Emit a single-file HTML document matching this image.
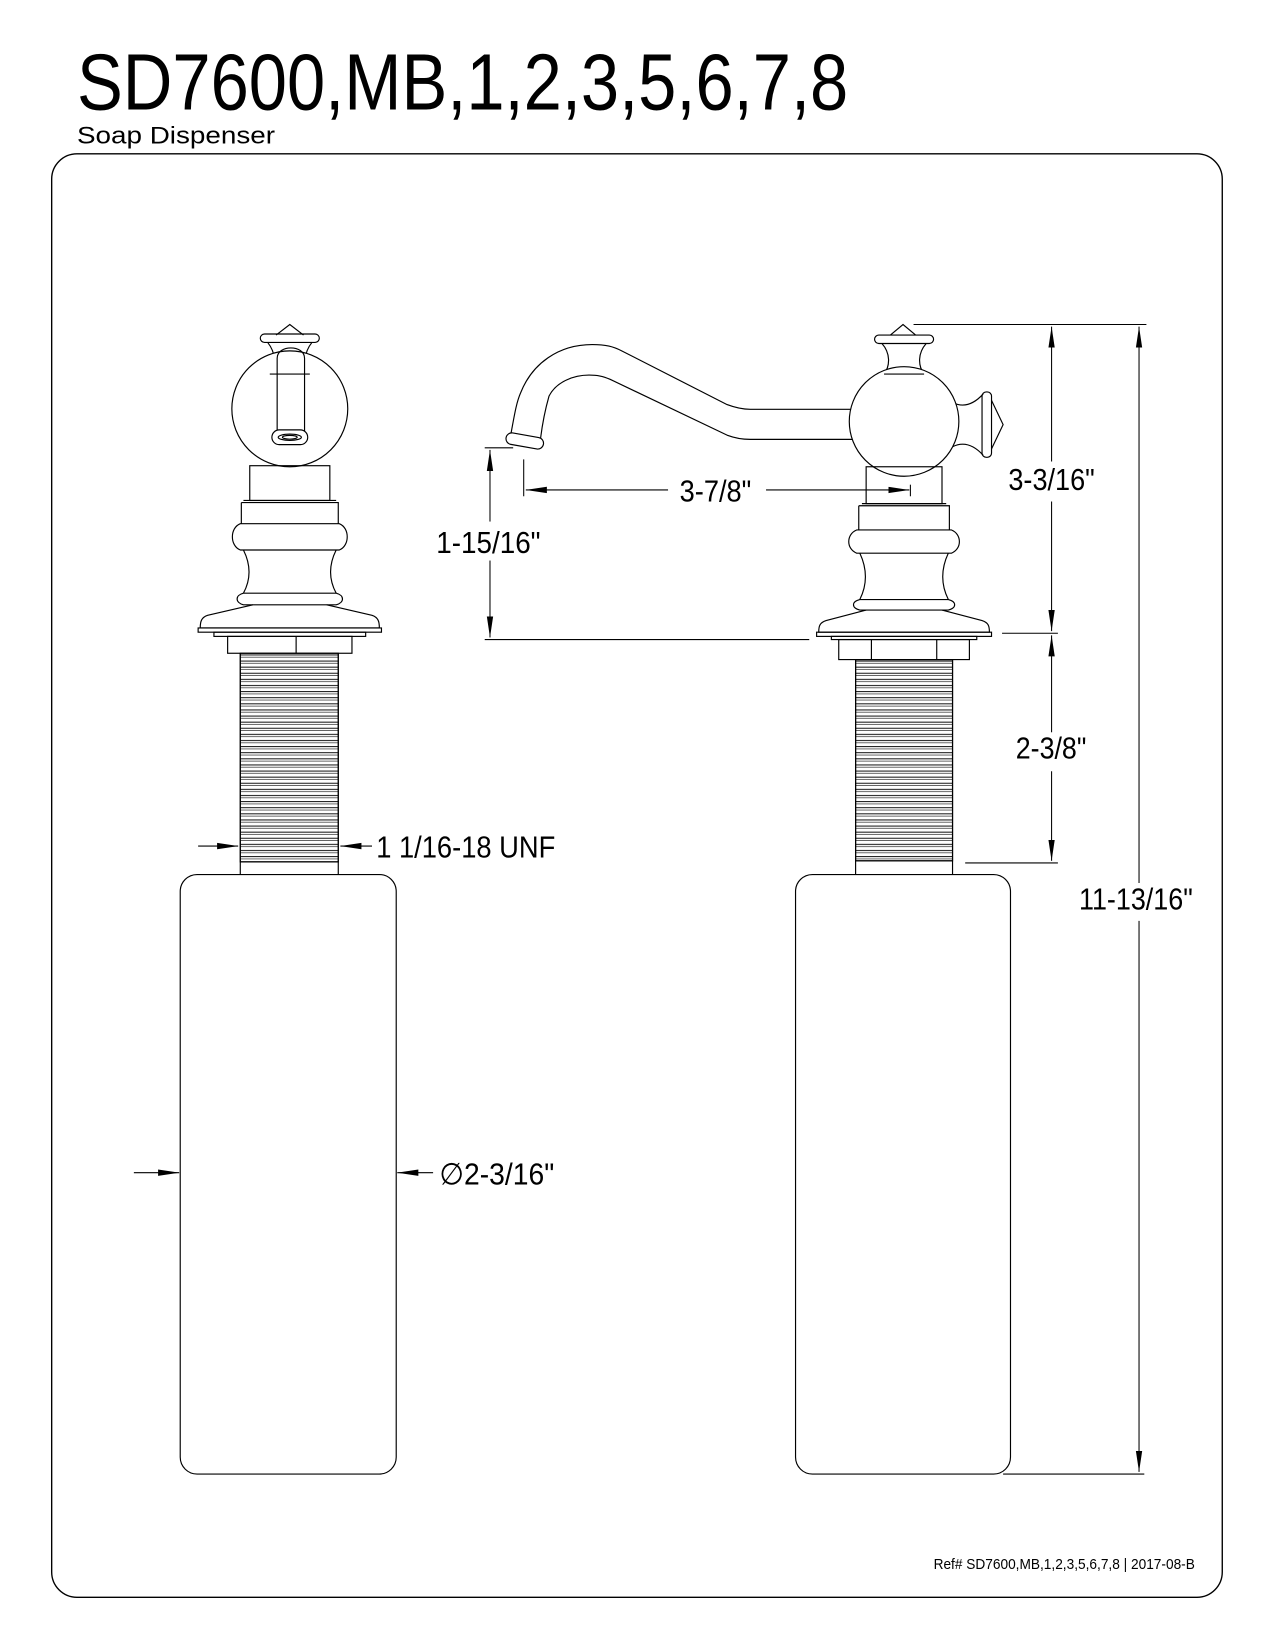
<!DOCTYPE html>
<html><head><meta charset="utf-8"><style>
html,body{margin:0;padding:0;background:#fff}
svg{display:block}
text{font-family:"Liberation Sans",Arial,sans-serif;fill:#000}
</style></head><body>
<svg width="1275" height="1650" viewBox="0 0 1210 1566" xmlns="http://www.w3.org/2000/svg">
<defs>
<pattern id="thr" x="0" y="0" width="10" height="5.8" patternUnits="userSpaceOnUse">
<line x1="0" y1="1" x2="200" y2="1" stroke="#000" stroke-width="0.9"/>
<line x1="0" y1="3.2" x2="200" y2="3.2" stroke="#000" stroke-width="0.6"/>
</pattern>
<marker id="ar" viewBox="0 0 20 8" refX="20" refY="4" markerWidth="20" markerHeight="8" markerUnits="userSpaceOnUse" orient="auto"><path d="M0,1 L20,4 L0,7 Z" fill="#000"/></marker>
</defs>
<text x="73" y="104" font-size="76" textLength="732" lengthAdjust="spacingAndGlyphs">SD7600,MB,1,2,3,5,6,7,8</text>
<text x="73" y="136" font-size="23" textLength="188" lengthAdjust="spacingAndGlyphs">Soap Dispenser</text>
<rect x="49" y="146" width="1111" height="1370" rx="24" fill="none" stroke="#000" stroke-width="1.3"/>

<g fill="none" stroke="#000" stroke-width="1.1">
<!-- LEFT dispenser -->
<path d="M262,318 L275,308 L288,318"/>
<rect x="247" y="317" width="56" height="8" rx="4"/>
<path d="M254,325 C262,335 262,347 256,355 M296,325 C288,335 288,347 294,355"/>
<circle cx="275" cy="388" r="55" fill="#fff"/>
<path d="M256,355 L294,355"/>
<path d="M263,415 L263,340 C263,327 289,327 289,340 L289,415"/>
<rect x="258" y="408" width="34" height="14" rx="7" fill="#fff"/>
<ellipse cx="275" cy="415" rx="11" ry="3"/>
<ellipse cx="275" cy="415" rx="7" ry="1.8"/>
<rect x="237" y="442" width="76" height="33"/>
<path d="M231,475 L319,475 M229,477 L321,477 L321,497 M229,477 L229,497"/>
<path d="M228,497 C218,501 218,518 228,522 L322,522 C332,518 332,501 322,497 Z"/>
<path d="M231,522 C238,536 238,550 231,563 M319,522 C312,536 312,550 319,563"/>
<path d="M231,563 C223,565 223,572 231,574 L319,574 C327,572 327,565 319,563 Z"/>
<path d="M197,584 L240,574 M310,574 L353,584 C359,586 360,590 360,596 L190,596 C190,590 191,586 197,584"/>
<rect x="188" y="596" width="174" height="4"/>
<rect x="203" y="600" width="144" height="4"/>
<rect x="216" y="604" width="118" height="16"/>
<line x1="281" y1="604" x2="281" y2="620"/>
<rect x="228" y="620" width="93" height="198" fill="url(#thr)"/>
<path d="M228,620 L228,830 M321,620 L321,830 M228,818 L321,818"/>
<rect x="171" y="830" width="205" height="569" rx="16"/>

<!-- RIGHT dispenser -->
<path d="M845,318 L857,308 L869,318"/>
<rect x="830" y="318" width="56" height="8" rx="4"/>
<path d="M837,326 C845,335 845,347 839,355 M879,326 C871,335 871,347 877,355"/>
<path d="M904,382 C912,386 922,386 933,374 M904,424 C912,420 922,420 933,432"/>
<rect x="932" y="372" width="9" height="62" rx="4"/>
<path d="M941,380 L952,403 L941,426"/>
<path d="M485,411 C488,395 490,382 494,373 C505,345 530,327 562,327 C575,327 582,329 590,333 L690,384 C698,387 704,388.5 712,388.5 L810,388.5 M513,416 C515,400 517,390 521,376 C528,362 545,356 559,356 C567,356 572,357 579,360 L690,413 C698,416 704,417 712,417 L810,417"/>
<rect x="480" y="413" width="36" height="11" rx="5.5" fill="#fff" transform="rotate(10 498 418.5)"/>
<circle cx="858" cy="400" r="52" fill="#fff"/>
<path d="M839,355 L877,355"/>
<rect x="822" y="443" width="72" height="35"/>
<path d="M818,478 L898,478 M815,480 L901,480 L901,503 M815,480 L815,503"/>
<path d="M813,503 L903,503 C913,507 913,521 903,525 L813,525 C803,521 803,507 813,503 Z"/>
<path d="M816,525 C823,540 823,555 816,569 M900,525 C893,540 893,555 900,569"/>
<path d="M816,569 C808,571 808,577 816,579 L900,579 C908,577 908,571 900,569 Z"/>
<path d="M784,589 L822,579 M894,579 L932,589 C938,591 939,594 939,600 L777,600 C777,594 778,591 784,589"/>
<rect x="775" y="600" width="166" height="4"/>
<rect x="789" y="604" width="138" height="3"/>
<rect x="796" y="607" width="124" height="19"/>
<line x1="827" y1="607" x2="827" y2="626"/><line x1="889" y1="607" x2="889" y2="626"/>
<rect x="812" y="626" width="92" height="191" fill="url(#thr)"/>
<path d="M812,626 L812,830 M904,626 L904,830 M812,817 L904,817"/>
<rect x="755" y="830" width="204" height="569" rx="16"/>
</g>

<!-- dimension lines -->
<g stroke="#000" stroke-width="1" fill="none">
<line x1="867" y1="308" x2="1088" y2="308"/>
<line x1="998" y1="438" x2="998" y2="310" marker-end="url(#ar)"/>
<line x1="998" y1="476" x2="998" y2="599" marker-end="url(#ar)"/>
<line x1="951" y1="601" x2="1004" y2="601"/>
<line x1="998" y1="695" x2="998" y2="603" marker-end="url(#ar)"/>
<line x1="998" y1="732" x2="998" y2="817" marker-end="url(#ar)"/>
<line x1="916" y1="819" x2="1004" y2="819"/>
<line x1="1081" y1="838" x2="1081" y2="310" marker-end="url(#ar)"/>
<line x1="1081" y1="874" x2="1081" y2="1397" marker-end="url(#ar)"/>
<line x1="952" y1="1399" x2="1086" y2="1399"/>
<line x1="460" y1="425" x2="487" y2="425"/>
<line x1="465" y1="495" x2="465" y2="427" marker-end="url(#ar)"/>
<line x1="465" y1="532" x2="465" y2="605" marker-end="url(#ar)"/>
<line x1="460" y1="607" x2="768" y2="607"/>
<line x1="497" y1="436" x2="497" y2="471"/>
<line x1="634" y1="465" x2="499" y2="465" marker-end="url(#ar)"/>
<line x1="727" y1="465" x2="863" y2="465" marker-end="url(#ar)"/>
<line x1="864" y1="460" x2="864" y2="471"/>
<line x1="188" y1="803" x2="226" y2="803" marker-end="url(#ar)"/>
<line x1="353" y1="803" x2="323" y2="803" marker-end="url(#ar)"/>
<line x1="127" y1="1113" x2="170" y2="1113" marker-end="url(#ar)"/>
<line x1="411" y1="1113" x2="377" y2="1113" marker-end="url(#ar)"/>
</g>
<g font-size="29">
<text x="957" y="465" textLength="82" lengthAdjust="spacingAndGlyphs">3-3/16"</text>
<text x="964" y="720" textLength="67" lengthAdjust="spacingAndGlyphs">2-3/8"</text>
<text x="1024" y="863" textLength="108" lengthAdjust="spacingAndGlyphs">11-13/16"</text>
<text x="414" y="525" textLength="99" lengthAdjust="spacingAndGlyphs">1-15/16"</text>
<text x="645" y="476" textLength="68" lengthAdjust="spacingAndGlyphs">3-7/8"</text>
<text x="357" y="814" textLength="170" lengthAdjust="spacingAndGlyphs">1 1/16-18 UNF</text>
<text x="417" y="1124" textLength="109" lengthAdjust="spacingAndGlyphs">∅2-3/16"</text>
</g>
<text x="886" y="1489" font-size="14" textLength="248" lengthAdjust="spacingAndGlyphs">Ref# SD7600,MB,1,2,3,5,6,7,8 | 2017-08-B</text>
</svg>
</body></html>
